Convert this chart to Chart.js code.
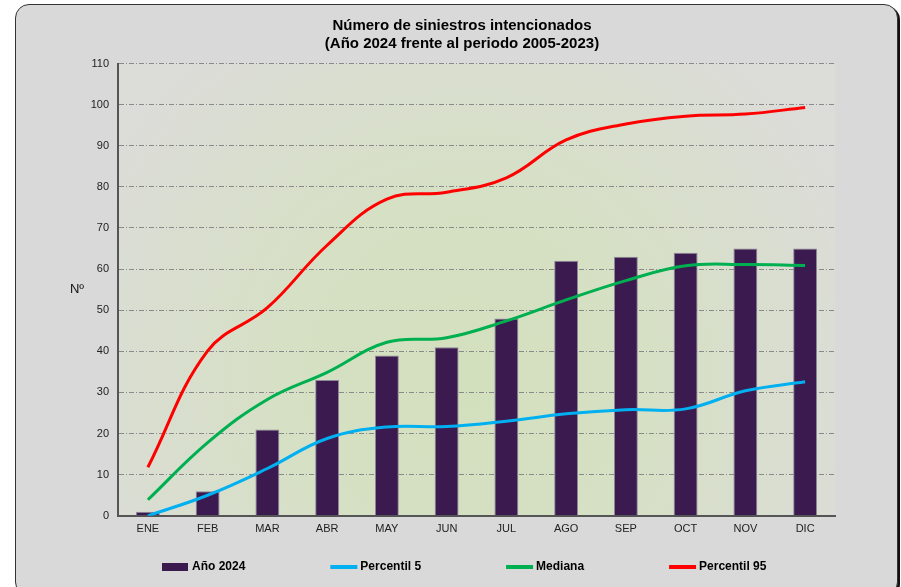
<!DOCTYPE html>
<html>
<head>
<meta charset="utf-8">
<script src="https://cdn.jsdelivr.net/npm/chart.js@4.4.1/dist/chart.umd.min.js"></script>
<style>
  body { margin: 0; background: #fff; overflow: hidden; }
  #panel {
    position: absolute; left: 15px; top: 4px; width: 881px; height: 590px;
    border: 1px solid #333; border-radius: 14px; background: #d9d9d9;
    box-shadow: 2px 2px 0 #111;
  }
</style>
</head>
<body>
<div id="panel"><canvas id="myChart"></canvas></div>
<script>
'use strict';

// ***** data *****
let months = ['ENE', 'FEB', 'MAR', 'ABR', 'MAY', 'JUN', 'JUL', 'AGO', 'SEP', 'OCT', 'NOV', 'DIC'];
let ano2024 = [1, 6, 21, 33, 39, 41, 48, 62, 63, 64, 65, 65];
let percentil5 = [0, 5, 11.5, 18.8, 21.6, 21.7, 23, 24.8, 25.8, 26, 30.4, 32.6];
let mediana = [3.9, 17.8, 28.3, 34.9, 42.2, 43.3, 47.4, 52.5, 57.2, 60.8, 61.1, 60.9];
let percentil95 = [11.8, 40.1, 50.6, 65.8, 77, 78.7, 82.2, 91.4, 95.3, 97.2, 97.7, 99.3];
let yMax = 110;
let yStep = 10;

let titleLines = ['Número de siniestros intencionados', '(Año 2024 frente al periodo 2005-2023)'];

const ctx = document.getElementById('myChart').getContext('2d');
const FONT = 'Liberation Sans, Arial, sans-serif';

// soft green glow behind the plot
const plotBackground = {
  id: 'plotBackground',
  beforeDraw(chart) {
    const a = chart.chartArea;
    const c = chart.ctx;
    const cx = (a.left + a.right) / 2 - 10;
    const cy = a.top + a.height * 0.7;
    const g = c.createRadialGradient(cx, cy, 0, cx, cy, a.width * 0.6);
    g.addColorStop(0, '#d3e0bd');
    g.addColorStop(0.45, '#d6e0c5');
    g.addColorStop(1, '#dcdcd9');
    c.save();
    c.fillStyle = g;
    c.fillRect(a.left, a.top, a.width, a.height);
    c.restore();
  }
};

// move the title so it centres on the whole panel, not the padded box
const titleShift = {
  id: 'titleShift',
  afterLayout(chart) {
    const t = chart.titleBlock;
    t.left = 11;
    t.right = chart.width;
    t.width = t.right - t.left;
  }
};

// "Nº" label next to the y axis (horizontal, not rotated)
const yLabel = {
  id: 'yLabel',
  afterDraw(chart) {
    const a = chart.chartArea;
    const c = chart.ctx;
    c.save();
    c.font = '13px ' + FONT;
    c.fillStyle = '#111';
    c.textAlign = 'center';
    c.textBaseline = 'middle';
    c.fillText('Nº', a.left - 41, (a.top + a.bottom) / 2);
    c.restore();
  }
};

// legend drawn by hand so the gaps match
const bottomLegend = {
  id: 'bottomLegend',
  afterDraw(chart) {
    const c = chart.ctx;
    const a = chart.chartArea;
    let x = a.left + 44;
    const y = 562;
    c.save();
    c.font = 'bold 12px ' + FONT;
    c.textBaseline = 'middle';
    chart.data.datasets.forEach(ds => {
      if (ds.type === 'bar') {
        c.fillStyle = ds.backgroundColor;
        c.fillRect(x, y - 4, 26, 8);
      } else {
        c.strokeStyle = ds.borderColor;
        c.lineWidth = 4;
        c.beginPath();
        c.moveTo(x, y);
        c.lineTo(x + 27, y);
        c.stroke();
      }
      c.fillStyle = '#000';
      c.fillText(ds.label, x + 30, y);
      x += 30 + c.measureText(ds.label).width + 85;
    });
    c.restore();
  }
};

function lineSet(label, data, color) {
  return {
    type: 'line',
    label: label,
    data: data,
    borderColor: color,
    backgroundColor: color,
    borderWidth: 3,
    pointRadius: 0,
    tension: 0.4,
    order: 0
  };
}

const myChart = new Chart(ctx, {
  data: {
    labels: months,
    datasets: [
      {
        type: 'bar',
        label: 'Año 2024',
        data: ano2024,
        backgroundColor: '#3b1a50',
        borderColor: '#8e8898',
        borderWidth: 1,
        borderSkipped: 'bottom',
        categoryPercentage: 1,
        barPercentage: 0.4,
        order: 1
      },
      lineSet('Percentil 5', percentil5, '#00b0f0'),
      lineSet('Mediana', mediana, '#00b050'),
      lineSet('Percentil 95', percentil95, '#ff0000')
    ]
  },
  options: {
    responsive: true,
    maintainAspectRatio: false,
    animation: false,
    layout: { padding: { left: 0, right: 62, top: 0, bottom: 60 } },
    plugins: {
      legend: { display: false },
      tooltip: { enabled: false },
      title: {
        display: true,
        text: titleLines,
        color: '#000',
        font: { family: FONT, size: 15, weight: 'bold', lineHeight: 1.25 },
        padding: { top: 11, bottom: 10 }
      }
    },
    scales: {
      x: {
        offset: true,
        grid: { display: false },
        border: { display: true, color: '#555', width: 2 },
        ticks: { color: '#222', font: { family: FONT, size: 11 }, padding: -1 }
      },
      y: {
        min: 0,
        max: yMax,
        afterFit(scale) { scale.width = 102; },
        grid: { color: '#8a8a8a', lineWidth: 1, drawTicks: false },
        border: { display: true, color: '#555', width: 2, dash: [5, 2, 1, 2] },
        ticks: { stepSize: yStep, color: '#222', font: { family: FONT, size: 11 }, padding: 9 }
      }
    }
  },
  plugins: [plotBackground, titleShift, yLabel, bottomLegend]
});
</script>
</body>
</html>
